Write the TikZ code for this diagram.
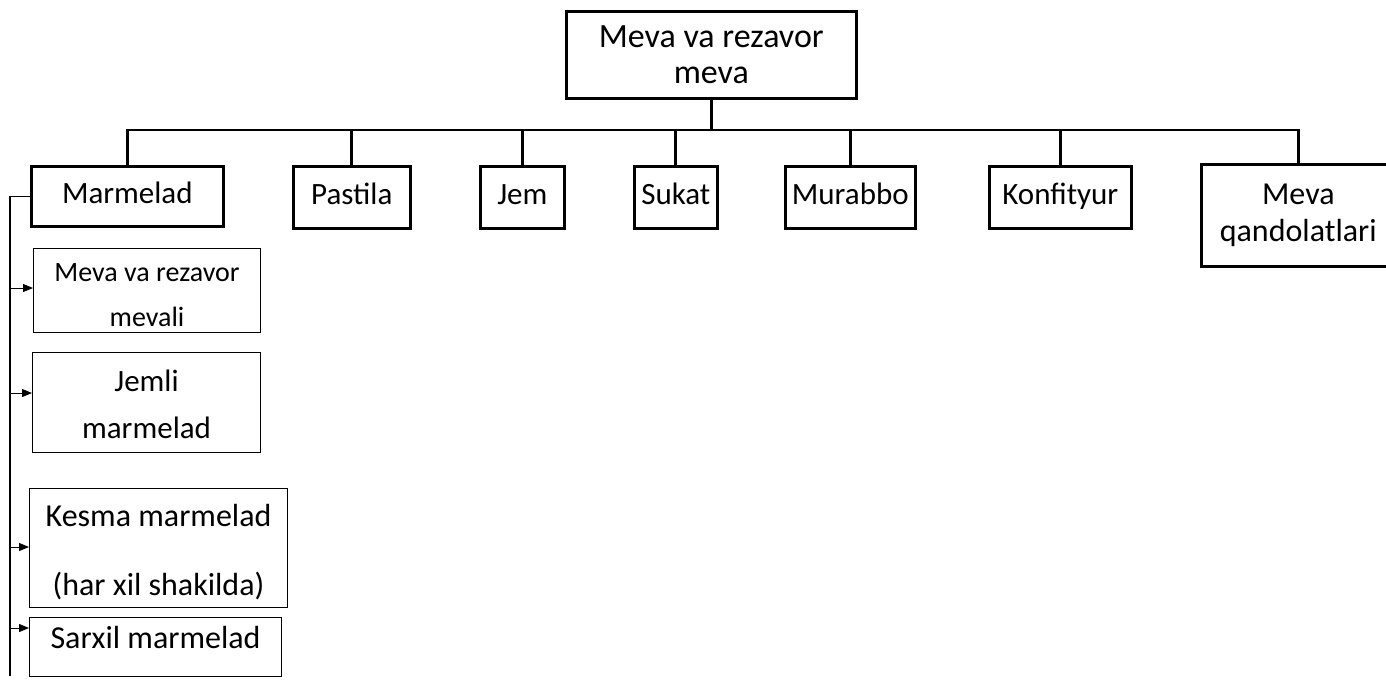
\documentclass[tikz,border=0pt]{standalone}
\usepackage{fontspec}
\setmainfont{Carlito}
\usetikzlibrary{arrows.meta}
\begin{document}
\begin{tikzpicture}[x=1pt,y=-1pt,
  bigbox/.style={draw, line width=2.6pt, inner sep=0pt, anchor=north west, align=center,
    font=\fontsize{31}{37}\selectfont},
  onerow/.style={bigbox, minimum height=62pt, text height=21pt, text depth=7pt},
  subbox/.style={draw, line width=1.1pt, inner sep=0pt, anchor=north west, align=center},
  conn/.style={line width=2.8pt, line cap=rect},
  spine/.style={line width=1.4pt},
  arr/.style={line width=1pt, -{Triangle[length=10pt,width=8pt]}}]
\useasboundingbox (0,0) rectangle (1386,680);

% root
\node[bigbox, minimum width=290pt, minimum height=87pt,
      font=\fontsize{34}{36}\selectfont] (root) at (565,10) {Meva va rezavor\\meva};

% first level
\node[onerow, minimum width=192pt, minimum height=60pt] (marm)  at (30,165)  {Marmelad};
\node[onerow, minimum width=117pt] (past)  at (292,165) {Pastila};
\node[onerow, minimum width=84pt]  (jem)   at (479,165) {Jem};
\node[onerow, minimum width=83pt]  (sukat) at (633,165) {Sukat};
\node[onerow, minimum width=130pt] (murab) at (784,165) {Murabbo};
\node[onerow, minimum width=142pt] (konf)  at (988,165) {Konfityur};
\node[bigbox, minimum width=194pt, minimum height=102pt,
      font=\fontsize{32}{37}\selectfont] (qand) at (1200,163) {Meva\\qandolatlari};

% tree connectors
\coordinate (bar) at (0,130);
\draw[conn] (root.south) -- (root.south |- bar);
\draw[conn] (marm.north |- bar) -- (qand.north |- bar);
\foreach \n in {marm,past,jem,sukat,murab,konf,qand}
  \draw[conn] (\n.north |- bar) -- (\n.north);

% Marmelad sub-types
\node[subbox, minimum width=227pt, minimum height=84pt] (s1) at (33,248) {};
\node[font=\fontsize{28}{45}\selectfont, align=center] (s1t) at ([yshift=-5pt]s1.center) {Meva va rezavor\\mevali};
\node[subbox, minimum width=228pt, minimum height=100pt] (s2) at (32,352) {};
\node[font=\fontsize{31}{47}\selectfont, align=center] (s2t) at ([yshift=-2pt]s2.center) {Jemli\\marmelad};
\node[subbox, minimum width=258pt, minimum height=119pt] (s3) at (29,488) {};
\node[font=\fontsize{32}{69}\selectfont, align=center] (s3t) at ([yshift=-4pt]s3.center) {Kesma marmelad\\(har xil shakilda)};
\node[subbox, minimum width=252pt, minimum height=59pt] (s4) at (29,617) {};
\node[font=\fontsize{32}{38}\selectfont] (s4t) at ([yshift=-20pt]s4.north) {Sarxil marmelad};

% spine with arrows
\coordinate (sbot) at (10,676);
\coordinate (a1) at (10,288);
\coordinate (a2) at (10,393);
\coordinate (a3) at (10,547);
\coordinate (a4) at (10,628);
\draw[spine] (marm.west) -- (marm.west -| sbot) -- (sbot);
\foreach \a/\b in {a1/s1,a2/s2,a3/s3,a4/s4}
  \draw[arr] (\a) -- (\a -| \b.west);
\end{tikzpicture}
\end{document}
